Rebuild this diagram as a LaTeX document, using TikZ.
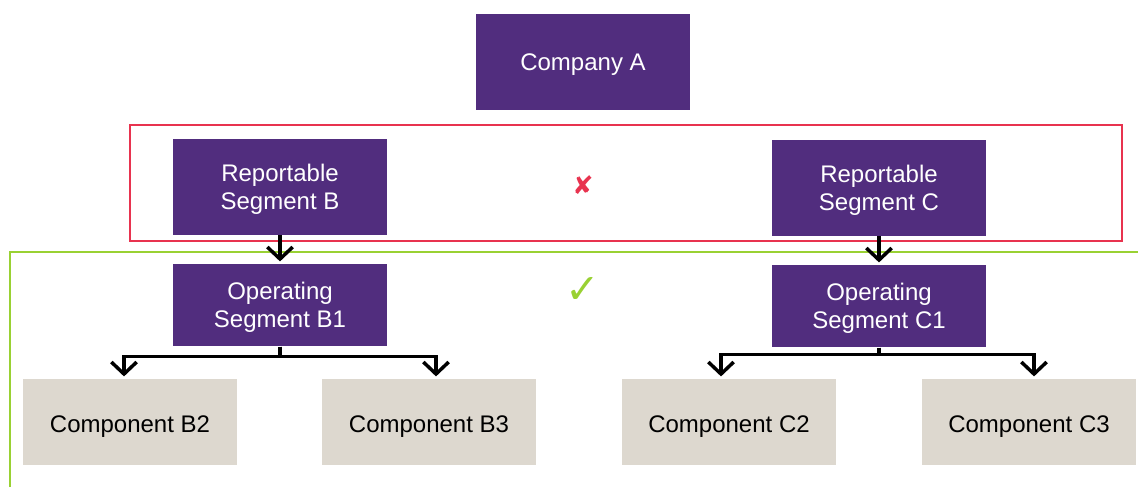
\documentclass[tikz,border=0pt]{standalone}
\usepackage{fontspec}
\setmainfont{Liberation Sans}
\newfontfamily\symfont{DejaVu Sans}
\usetikzlibrary{arrows.meta}
\definecolor{segpurple}{HTML}{512D7E}
\definecolor{compbeige}{HTML}{DDD8CF}
\definecolor{markred}{HTML}{E8334F}
\definecolor{markgreen}{HTML}{99D133}
% box text, set a little below the geometric centre
\newcommand{\boxtext}[2][2.5pt]{\raisebox{-#1}[\height][\depth]{\begin{tabular}{@{}c@{}}#2\end{tabular}}}
\tikzset{
  x=0.75pt, y=-0.75pt,
  unit/.style={minimum width=161pt, inner sep=0pt,
    font=\fontsize{18}{21}\selectfont},
  segbox/.style={unit, fill=segpurple, text=white, minimum height=72pt},
  opbox/.style={unit, fill=segpurple, text=white, minimum height=62pt},
  compbox/.style={unit, fill=compbeige, text=black, minimum height=65pt},
  link/.style={line width=2.6pt, -{Straight Barb[length=9pt, width=19pt, line width=2.6pt]}},
  redframe/.style={draw=markred, line width=1.5pt},
  greenframe/.style={draw=markgreen, line width=1.6pt},
}
\begin{document}
\begin{tikzpicture}
\useasboundingbox (0,0) rectangle (1138,487);

% top entity
\node[segbox] (coA) at (583,62) {\boxtext{Company A}};

% reportable segments inside the red frame
\node[segbox] (rB) at (280,187) {\boxtext{Reportable\\Segment B}};
\node[segbox] (rC) at (879,188) {\boxtext{Reportable\\Segment C}};
\draw[redframe] (130,125) rectangle (1122,241);
\node[text=markred, font=\symfont\fontsize{19}{19}\selectfont] (cross) at (583,185) {✘};

% green frame, open to the right and bottom
\coordinate (gBot) at (10,487);
\coordinate (gCorner) at (10,252);
\coordinate (gRight) at (1138,252);
\draw[greenframe] (gBot) -- (gCorner) -- (gRight);
\node[text=markgreen, font=\symfont\fontsize{31}{31}\selectfont] (tick) at (583,290) {✓};

% operating segments
\node[opbox] (oB) at (280,305) {\boxtext{Operating\\Segment B1}};
\node[opbox] (oC) at (879,306) {\boxtext{Operating\\Segment C1}};

% components
\node[compbox] (cB2) at (130,422) {\boxtext[4pt]{Component B2}};
\node[compbox] (cB3) at (429,422) {\boxtext[4pt]{Component B3}};
\node[compbox] (cC2) at (729,422) {\boxtext[4pt]{Component C2}};
\node[compbox] (cC3) at (1029,422) {\boxtext[4pt]{Component C3}};

% connectors
\draw[link] (rB.south) -- ([yshift=1.5pt]oB.north);
\draw[link] (rC.south) -- ([yshift=1.5pt]oC.north);
\draw[link] (oB.south) -- ++(0,10) -| ([xshift=-4.5pt,yshift=1.5pt]cB2.north);
\draw[link] (oB.south) -- ++(0,10) -| ([xshift=5.25pt,yshift=1.5pt]cB3.north);
\draw[link] (oC.south) -- ++(0,7) -| ([xshift=-6pt,yshift=1.5pt]cC2.north);
\draw[link] (oC.south) -- ++(0,7) -| ([xshift=3.75pt,yshift=1.5pt]cC3.north);
\end{tikzpicture}
\end{document}
